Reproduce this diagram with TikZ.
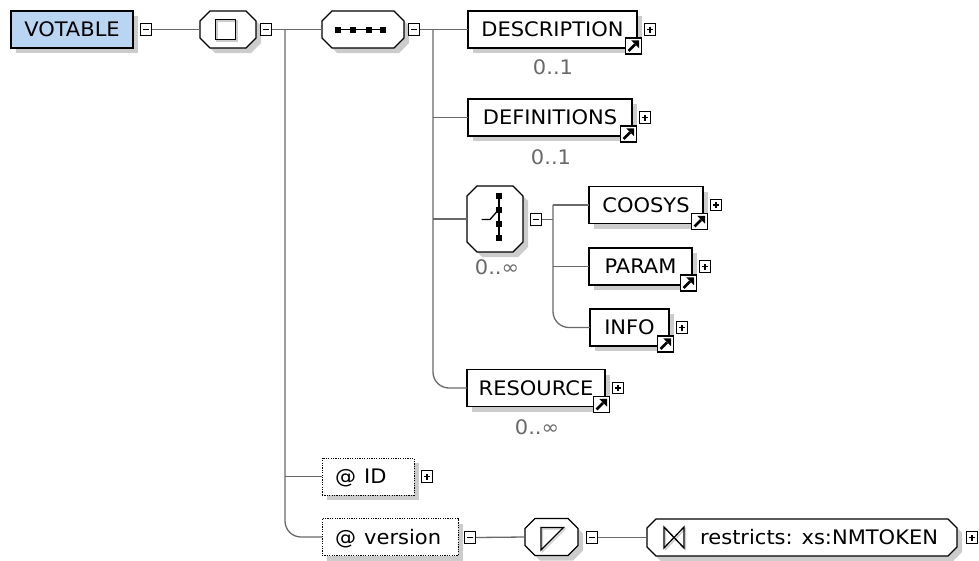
\documentclass[tikz,border=0pt]{standalone}
\usepackage{fontspec}
\setmainfont[FakeStretch=1.05]{DejaVu Sans}
\usetikzlibrary{shadows,calc,backgrounds}
\definecolor{votblue}{RGB}{185,213,242}
\definecolor{shadowc}{RGB}{204,204,204}
\definecolor{connc}{RGB}{105,105,105}
\definecolor{cardc}{RGB}{105,105,105}
\newcommand\octo[2]{%
  \fill[shadowc] ($(#1.north west)+(#2+5,5)$) -- ($(#1.north east)+(-#2+5,5)$) -- ($(#1.north east)+(5,#2+5)$) -- ($(#1.south east)+(5,-#2+5)$) -- ($(#1.south east)+(-#2+5,5)$) -- ($(#1.south west)+(#2+5,5)$) -- ($(#1.south west)+(5,-#2+5)$) -- ($(#1.north west)+(5,#2+5)$) -- cycle;
  \draw[line width=1.2pt, fill=white] ($(#1.north west)+(#2,0)$) -- ($(#1.north east)+(-#2,0)$) -- ($(#1.north east)+(0,#2)$) -- ($(#1.south east)+(0,-#2)$) -- ($(#1.south east)+(-#2,0)$) -- ($(#1.south west)+(#2,0)$) -- ($(#1.south west)+(0,-#2)$) -- ($(#1.north west)+(0,#2)$) -- cycle;}
\begin{document}
\begin{tikzpicture}[x=1pt,y=-1pt,
  font=\fontsize{20}{23}\selectfont,
  shad/.style={drop shadow={shadow xshift=5pt,shadow yshift=-5pt,fill=shadowc,opacity=1}},
  elem/.style={draw, line width=1.2pt, fill=white, minimum height=37pt, inner sep=0pt, outer sep=0pt, text height=14.5pt, text depth=0pt, shad},
  rootbox/.style={elem, fill=votblue},
  attr/.style={elem, line width=1pt, dash pattern=on 1.2pt off 1.2pt},
  ghost/.style={minimum height=37pt, inner sep=0pt, outer sep=0pt},
  conn/.style={draw=connc, line width=1.3pt},
  icon/.style={draw, line width=1pt, fill=white, minimum size=11.5pt, inner sep=0pt, outer sep=0pt},
  minusic/.style={icon, path picture={\draw[line width=1.2pt] ([shift={(-3pt,0pt)}]path picture bounding box.center) -- ([shift={(3pt,0pt)}]path picture bounding box.center);}},
  plusic/.style={icon, path picture={\draw[line width=1.2pt] ([shift={(-3pt,0pt)}]path picture bounding box.center) -- ([shift={(3pt,0pt)}]path picture bounding box.center) ([shift={(0pt,-3pt)}]path picture bounding box.center) -- ([shift={(0pt,3pt)}]path picture bounding box.center);}},
  refic/.style={draw, line width=1.1pt, fill=white, minimum size=16pt, inner sep=0pt, outer sep=0pt},
  card/.style={text=cardc, inner sep=0pt, text height=13.5pt, text depth=0pt}
]
\useasboundingbox (0,0) rectangle (979,560);

% top row
\node[rootbox, minimum width=122pt] (votable) at (72,29.5) {VOTABLE};
\node[minusic] (m1) at (146,29.5) {};
\node[ghost, minimum width=56pt] (all) at (228,29.5) {};
\node[minusic] (m2) at (266,29.5) {};
\node[ghost, minimum width=82pt] (seq) at (363,29.5) {};
\node[minusic] (m3) at (414,29.5) {};

% sequence children
\node[elem, minimum width=169pt] (desc) at (552.5,29.5) {DESCRIPTION};
\node[refic] (desca) at ([shift={(-3.5,-2)}]desc.south east) {};
\node[plusic] (descp) at ([xshift=13pt]desc.east) {};
\node[card] (descc) at (553,68) {0..1};

\node[elem, minimum width=164pt] (defs) at (550,117.5) {DEFINITIONS};
\node[refic] (defsa) at ([shift={(-3.5,-2)}]defs.south east) {};
\node[plusic] (defsp) at ([xshift=13pt]defs.east) {};
\node[card] (defsc) at (551,158) {0..1};

\node[ghost, minimum width=56pt, minimum height=66pt] (choice) at (495,219) {};
\node[minusic] (m4) at (536,219.5) {};
\node[card] (choicec) at (497,268) {0..∞};

\node[elem, minimum width=114pt] (coosys) at (646,205) {COOSYS};
\node[refic] (coosysa) at ([shift={(-3.5,-2)}]coosys.south east) {};
\node[plusic] (coosysp) at ([xshift=13pt]coosys.east) {};

\node[elem, minimum width=103pt] (param) at (640.5,266.5) {PARAM};
\node[refic] (parama) at ([shift={(-3.5,-2)}]param.south east) {};
\node[plusic] (paramp) at ([xshift=13pt]param.east) {};

\node[elem, minimum width=79pt] (info) at (629.5,327.5) {INFO};
\node[refic] (infoa) at ([shift={(-3.5,-2)}]info.south east) {};
\node[plusic] (infop) at ([xshift=13pt]info.east) {};

\node[elem, minimum width=138pt] (res) at (536,388) {RESOURCE};
\node[refic] (resa) at ([shift={(-3.5,-2)}]res.south east) {};
\node[plusic] (resp) at ([xshift=13pt]res.east) {};
\node[card] (resc) at (537,428) {0..∞};

% reference arrows inside the small icons
\foreach \n in {desca,defsa,coosysa,parama,infoa,resa}{
  \fill ([shift={(5.6,-5.6)}]\n.center) -- ([shift={(5.6,2.2)}]\n.center) -- ([shift={(-2.2,-5.6)}]\n.center) -- cycle;
  \draw[line width=2.8pt] ([shift={(-5,5)}]\n.center) -- ([shift={(1.5,-1.5)}]\n.center);
}

% attributes
\node[attr, minimum width=92pt] (id) at (368,476.5) {};
\node[anchor=west, inner sep=0pt, text height=14.5pt, text depth=0pt] (idt) at ([xshift=13pt]id.west) {@\hspace{8pt}ID};
\node[plusic] (idp) at ([xshift=13pt]id.east) {};

\node[attr, minimum width=136pt] (ver) at (390,537) {};
\node[anchor=west, inner sep=0pt, text height=14.5pt, text depth=0pt] (vert) at ([xshift=13pt]ver.west) {@\hspace{8pt}version};
\node[minusic] (m5) at (470,537.5) {};
\node[ghost, minimum width=53pt] (simple) at (551.5,537) {};
\node[minusic] (m6) at (592,537.5) {};
\node[ghost, minimum width=310pt] (restr) at (802,537.5) {};
\node[plusic] (restrp) at ([xshift=15pt]restr.east) {};

\begin{pgfonlayer}{background}
\octo{all}{10}
\octo{seq}{10}
\octo{choice}{10}
\octo{simple}{10}
\octo{restr}{9}
\end{pgfonlayer}

\node[anchor=west, inner sep=0pt, text height=14.5pt, text depth=0pt] (restrt) at (700,537.5) {restricts: xs:NMTOKEN};

% icons inside compositors
\draw[shadowc, line width=1.5pt] (217,21) rectangle (237,41);
\draw[line width=1.5pt] (215.5,19.5) rectangle (235.5,39.5);

\draw[line width=1.5pt] (335,29.5) -- (386,29.5);
\foreach \xx in {337.5,353,368.5,383}
  \fill (\xx-3,26.5) rectangle (\xx+3,32.5);

\draw[line width=1.4pt] (499,196) -- (499,238);
\foreach \yy in {196,210,224,238}
  \fill (496.2,\yy-2.8) rectangle (501.8,\yy+2.8);
\draw[line width=1.3pt] (481.5,219.5) -- (490,219.5) -- (497,211.5);

\draw[shadowc, line width=1.3pt] (542.5,529) -- (565,529) -- (542.5,551.5) -- cycle;
\draw[line width=1.3pt] (541,527.5) -- (563.5,527.5) -- (541,550) -- cycle;

\draw[shadowc, line width=1.3pt] (665.5,528.5) -- (665.5,549.5) -- (685.5,528.5) -- (685.5,549.5) -- cycle;
\draw[line width=1.3pt] (664,527) -- (664,548) -- (684,527) -- (684,548) -- cycle;

% connectors
\draw[conn] (m1.east) -- (all.west);
\draw[conn] (m2.east) -- (seq.west);
\coordinate (j1) at (285,29.5);
\draw[conn, rounded corners=16pt] (j1) |- (ver.west);
\draw[conn] (j1 |- id.west) -- (id.west);

\draw[conn] (m3.east) -- (desc.west);
\coordinate (j2) at (433,29.5);
\draw[conn, rounded corners=16pt] (j2) |- (res.west);
\draw[conn] (j2 |- defs.west) -- (defs.west);
\draw[conn] (j2 |- choice.west) -- (choice.west);

\coordinate (j3) at (553,205);
\draw[conn] (m4.east) -- (m4.east -| j3);
\draw[conn] (j3) -- (coosys.west);
\draw[conn, rounded corners=16pt] (j3) |- (info.west);
\draw[conn] (j3 |- param.west) -- (param.west);

\draw[conn] (m5.east) -- (simple.west);
\draw[conn] (m6.east) -- (restr.west);
\end{tikzpicture}
\end{document}
